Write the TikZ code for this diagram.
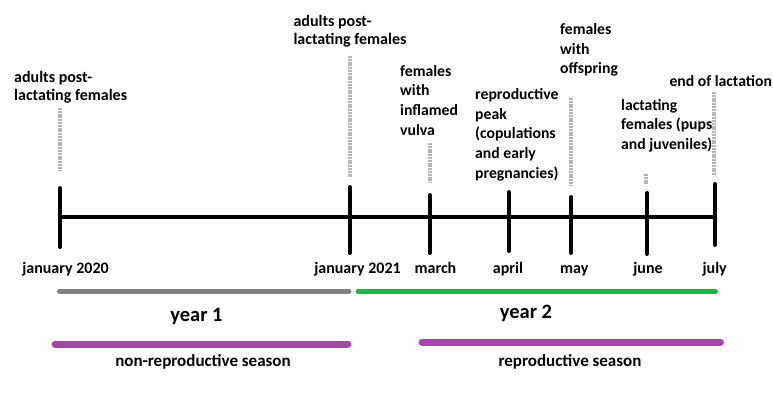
\documentclass[tikz,border=0pt]{standalone}
\usepackage{fontspec}
\setmainfont{Carlito}
\usepackage{xcolor}
\definecolor{tlgray}{HTML}{808080}
\definecolor{tlgreen}{HTML}{22B14C}
\definecolor{tlpurple}{HTML}{A349A4}
\definecolor{tlmarkc}{HTML}{B4B4B4}
\usetikzlibrary{positioning}
\tikzset{
  tlaxis/.style={line width=3.5pt},
  tltick/.style={line width=4pt,line cap=round},
  tlmark/.style={line width=3.5pt,draw=tlmarkc,dash pattern=on 2pt off 0.8pt},
  tlnote/.style={font=\bfseries\fontsize{15.7}{19.7}\selectfont,align=left,inner sep=0pt,anchor=north west},
  tlnotetight/.style={tlnote,font=\bfseries\fontsize{16}{18.2}\selectfont},
  tlmonth/.style={font=\bfseries\fontsize{16}{18}\selectfont,inner sep=0pt,anchor=base},
  tlyear/.style={font=\bfseries\fontsize{20.5}{22}\selectfont,inner sep=0pt,anchor=base},
  tlseason/.style={font=\bfseries\fontsize{17}{18}\selectfont,inner sep=0pt,anchor=base},
  tlbar/.style={line cap=round},
}

\begin{document}
\begin{tikzpicture}[x=1pt,y=-1pt]
\useasboundingbox (0,0) rectangle (773,392);
% time axis
\coordinate (axl) at (60,217);
\coordinate (axr) at (715,217);
\draw[tlaxis] (axl) -- (axr);
% ticks: name/x/top/bottom
\foreach \n/\x/\t/\b in {jan20/60/188/247,jan21/350/187/253,mar/430/195/253,apr/509/192/251,may/571/197/253,jun/647/193/254,jul/715/184/245}{
  \coordinate (\n-t) at (\x,\t);
  \coordinate (\n-b) at (\x,\b);
  \draw[tltick] (\n-t) -- (\n-b);
}
% grey markers above the ticks
\foreach \x/\t/\b in {60/108/170,350/56/177,430/143/183,571/98/185,646/174/184,714/92/176}
  \draw[tlmark] (\x,\t) -- (\x,\b);
% months
\node[tlmonth] (lab-jan20) at (65.5,273) {january 2020};
\node[tlmonth] (lab-jan21) at (357.5,273) {january 2021};
\node[tlmonth] (lab-mar) at (435.5,273) {march};
\node[tlmonth] (lab-apr) at (508,273) {april};
\node[tlmonth] (lab-may) at (574.3,273) {may};
\node[tlmonth] (lab-jun) at (648,273) {june};
\node[tlmonth] (lab-jul) at (714.7,273) {july};
% events
\node[tlnotetight] (ev-a) at (14,70.7) {adults post-\\lactating females};
\node[tlnotetight] (ev-b) at (293.3,15) {adults post-\\lactating females};
\node[tlnote] (ev-c) at (400,65) {females\\with\\inflamed\\vulva};
\node[tlnote] (ev-d) at (475,88.3) {reproductive\\peak\\(copulations\\and early\\pregnancies)};
\node[tlnote] (ev-e) at (560,23.3) {females\\with\\offspring};
\node[tlnote] (ev-f) at (621,99) {lactating\\females (pups\\and juveniles)};
\node[tlnote] (ev-g) at (669.3,75.7) {end of lactation};
% years
\coordinate (y1l) at (59.5,291);
\coordinate (y1r) at (349,291);
\coordinate (y2l) at (358,291.7);
\coordinate (y2r) at (715.5,291.7);
\draw[tlbar,line width=5pt,tlgray] (y1l) -- (y1r);
\draw[tlbar,line width=5pt,tlgreen] (y2l) -- (y2r);
\node[tlyear] (year1) at (196.5,321) {year 1};
\node[tlyear] (year2) at (526,318) {year 2};
% seasons
\coordinate (s1l) at (55,344);
\coordinate (s1r) at (348,344);
\coordinate (s2l) at (422,342);
\coordinate (s2r) at (720.5,342);
\draw[tlbar,line width=7pt,tlpurple] (s1l) -- (s1r);
\draw[tlbar,line width=7pt,tlpurple] (s2l) -- (s2r);
\node[tlseason] (season1) at (203,366) {non-reproductive season};
\node[tlseason] (season2) at (570,366) {reproductive season};
\end{tikzpicture}
\end{document}
